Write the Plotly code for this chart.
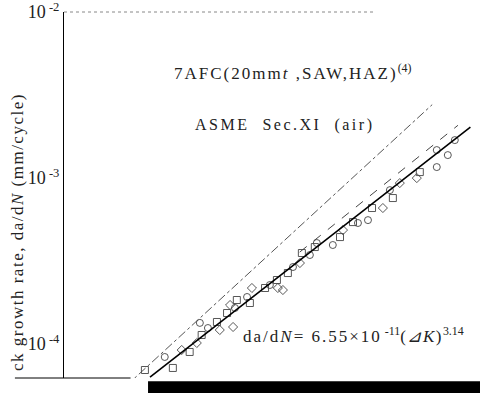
import plotly.graph_objects as go

# --- data ---
sq_dK = [79.1, 87.1, 92.3, 96.2, 101.4, 105.0, 108.6, 113.6, 119.7, 124.7, 129.5, 135.9, 142.1, 155.0, 162.1, 173.1, 186.0, 204.1]
sq_rate = [6.97e-5, 7.17e-5, 8.95e-5, 1.133e-4, 1.357e-4, 1.537e-4, 1.841e-4, 1.766e-4, 2.175e-4, 2.43e-4, 2.677e-4, 3.534e-4, 3.84e-4, 4.41e-4, 5.43e-4, 6.60e-4, 7.58e-4, 1.087e-3]

ci_dK = [84.7, 95.6, 98.3, 107.9, 112.5, 121.7, 131.8, 139.7, 143.1, 151.2, 164.9, 170.7, 184.1, 216.4, 216.4, 224.8, 230.3]
ci_rate = [8.35e-5, 1.34e-4, 1.248e-4, 1.648e-4, 1.920e-4, 2.267e-4, 2.91e-4, 3.438e-4, 4.06e-4, 3.95e-4, 5.36e-4, 5.58e-4, 8.46e-4, 1.475e-3, 1.165e-3, 1.376e-3, 1.694e-3]

di_dK = [89.8, 94.6, 102.4, 106.1, 107.2, 114.4, 125.1, 127.3, 135.0, 156.6, 179.7, 190.5, 202.0]
di_rate = [9.20e-5, 1.014e-4, 1.214e-4, 1.718e-4, 1.266e-4, 2.175e-4, 2.175e-4, 2.115e-4, 3.076e-4, 4.86e-4, 6.60e-4, 9.33e-4, 1.0e-3]

fit_dK = [80.5, 243.0]
fit_rate = [6.32e-5, 2.03e-3]

asme_dK = [74.0, 213.0]
asme_rate = [5.55e-5, 2.77e-3]

band_dK = [134.9, 232.8]
band_rate = [3.58e-4, 2.08e-3]

y_tickvals = [1e-4, 1e-3, 1e-2]
y_ticktext = ["10<sup> -4</sup>", "10<sup> -3</sup>", "10<sup> -2</sup>"]

SERIF = "Liberation Serif, DejaVu Serif, serif"
INK = "#222222"


def spaced(txt, px):
    return f'<span style="letter-spacing:{px}px">{txt}</span>'


fig = go.Figure()

fig.add_trace(go.Scatter(x=asme_dK, y=asme_rate, mode="lines",
                         line=dict(color="#555555", width=1, dash="dashdot"), showlegend=False))
fig.add_trace(go.Scatter(x=band_dK, y=band_rate, mode="lines",
                         line=dict(color="#444444", width=1, dash="dash"), showlegend=False))
fig.add_trace(go.Scatter(x=sq_dK, y=sq_rate, mode="markers",
                         marker=dict(symbol="square-open", size=7, color="#444444", line=dict(width=0.9)),
                         showlegend=False))
fig.add_trace(go.Scatter(x=ci_dK, y=ci_rate, mode="markers",
                         marker=dict(symbol="circle-open", size=7, color="#444444", line=dict(width=0.9)),
                         showlegend=False))
fig.add_trace(go.Scatter(x=di_dK, y=di_rate, mode="markers",
                         marker=dict(symbol="diamond-open", size=7, color="#444444", line=dict(width=0.9)),
                         showlegend=False))
fig.add_trace(go.Scatter(x=fit_dK, y=fit_rate, mode="lines",
                         line=dict(color="black", width=1.6), showlegend=False))

fig.update_layout(
    width=480, height=393,
    margin=dict(l=64, r=0, t=12, b=15),
    paper_bgcolor="white", plot_bgcolor="white",
    font=dict(family=SERIF, color=INK),
    xaxis=dict(type="log", range=[1.777, 2.400], showticklabels=False, showgrid=False,
               zeroline=False, showline=False, ticks=""),
    yaxis=dict(type="log", range=[-4.205, -1.999], tickvals=y_tickvals, ticktext=y_ticktext,
               showgrid=False, zeroline=False, showline=True, linecolor="black", linewidth=1,
               ticks="", tickfont=dict(family=SERIF, size=18, color=INK), automargin=False,
               ticklabeloverflow="allow"),
    annotations=[
        dict(text=spaced("ck growth rate, da/d<i>N</i> (mm/cycle)", 1.5), xref="paper", yref="paper",
             x=-0.112, y=0.40, textangle=-90, showarrow=False, xanchor="center", yanchor="middle",
             font=dict(family=SERIF, size=17, color=INK)),
        dict(text=spaced("7AFC(20mm<i>t</i> ,SAW,HAZ)", 2) + "<sup>(4)</sup>", xref="paper", yref="paper",
             x=0.26, y=0.835, showarrow=False, xanchor="left", yanchor="middle",
             font=dict(family=SERIF, size=17, color=INK)),
        dict(text=spaced("ASME  Sec.XI  (air)", 2.5), xref="paper", yref="paper",
             x=0.31, y=0.69, showarrow=False, xanchor="left", yanchor="middle",
             font=dict(family=SERIF, size=16, color=INK)),
        dict(text=spaced("da/d<i>N</i>= 6.55×10", 2) + "<sup> -11</sup>" + spaced("(<i>⊿K</i>)", 1.5) + "<sup>3.14</sup>",
             xref="paper", yref="paper",
             x=0.425, y=0.118, showarrow=False, xanchor="left", yanchor="middle",
             font=dict(family=SERIF, size=17, color=INK)),
    ],
    shapes=[
        dict(type="line", xref="paper", yref="paper", x0=0, x1=0.75, y0=1, y1=1,
             line=dict(color="#888888", width=1, dash="dot")),
        dict(type="line", xref="paper", yref="paper", x0=-0.118, x1=0.16, y0=0, y1=0,
             line=dict(color="black", width=1)),
        dict(type="rect", xref="paper", yref="paper", x0=0.202, x1=1.0, y0=-0.041, y1=-0.009,
             fillcolor="black", line=dict(width=0)),
    ],
)

fig.write_html("out.html", config={"displayModeBar": False},
               post_script="document.body.style.margin='0';")
